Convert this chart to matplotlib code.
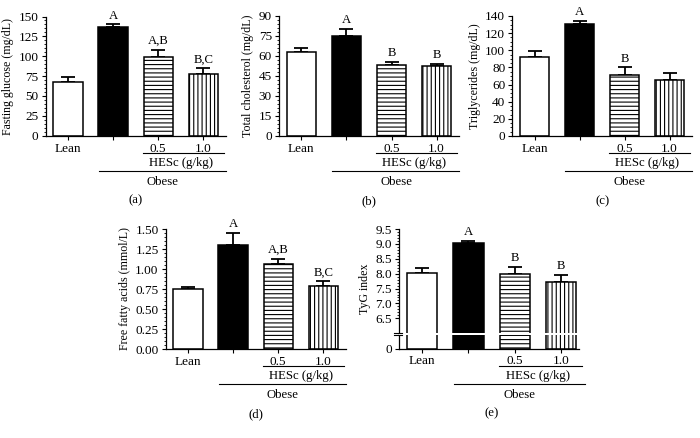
import numpy as np
import matplotlib
matplotlib.use("Agg")
import matplotlib.pyplot as plt
from matplotlib.ticker import MultipleLocator, FixedLocator, FormatStrFormatter
from matplotlib.transforms import offset_copy

plt.rcParams['font.family'] = ['Liberation Serif', 'DejaVu Serif']
plt.rcParams['font.size'] = 9.2
plt.rcParams['hatch.linewidth'] = 0.8

groups = ["Lean", "", "0.5", "1.0"]

glucose = [68, 137, 99.6, 77.3]
glucose_err = [5.5, 3, 8.8, 7.7]
glucose_sig = ["", "A", "A,B", "B,C"]

chol = [62.8, 75, 53.3, 52.8]
chol_err = [3, 5.5, 2, 1.5]
chol_sig = ["", "A", "B", "B"]

tg = [92.2, 131, 70.8, 65.7]
tg_err = [6.6, 3.5, 9.3, 8.2]
tg_sig = ["", "A", "B", ""]

ffa = [0.75, 1.30, 1.067, 0.79]
ffa_err = [0.03, 0.155, 0.058, 0.056]
ffa_sig = ["", "A", "A,B", "B,C"]

tyg = [8.03, 9.03, 8.0, 7.73]
tyg_err = [0.15, 0.08, 0.22, 0.22]
tyg_sig = ["", "A", "B", "B"]

W, H = 700, 438
fig = plt.figure(figsize=(W / 100, H / 100), dpi=100)


def box(left, right, top, bottom):
    return [left / W, 1 - bottom / H, (right - left) / W, (bottom - top) / H]


def panel(rect, vals, errs, sig, ylabel, ymax, major, minor, fmt, tag, xr=3.5,
          scale=None, ticks=None):
    ax = fig.add_axes(box(*rect))
    x = np.arange(len(vals))
    if scale is not None:
        ax.set_yscale('function', functions=scale)
    faces = ["white", "black", "white", "white"]
    hatches = ["", "", "----", "||||"]
    ax.errorbar(x, vals, yerr=[np.zeros(4), errs], fmt='none', ecolor='black',
                elinewidth=1.3, capsize=5.2, capthick=1.3, zorder=1)
    for xi, v, f, h in zip(x, vals, faces, hatches):
        ax.bar(xi, v, width=0.65, color=f, edgecolor='black', hatch=h,
               linewidth=1.1, zorder=2)
    for xi, v, e, s in zip(x, vals, errs, sig):
        if s:
            ax.annotate(s, (xi, v + e), xytext=(0, 2), textcoords='offset points',
                        ha='center', va='bottom')
    ax.set_xlim(-0.5, xr)
    ax.set_ylim(0, ymax)
    if ticks is not None:
        ax.yaxis.set_major_locator(FixedLocator(ticks))
        ax.yaxis.set_minor_locator(FixedLocator(np.arange(6.5, 9.51, 0.1)))
    else:
        ax.yaxis.set_major_locator(MultipleLocator(major))
        ax.yaxis.set_minor_locator(MultipleLocator(minor))
    ax.yaxis.set_major_formatter(FormatStrFormatter(fmt))
    ax.set_xticks(x)
    ax.set_xticklabels(groups)
    ax.tick_params(axis='both', length=3, width=0.8, pad=2, labelsize=9.5)
    ax.tick_params(axis='y', which='minor', length=1.5, width=0.6)
    for s in ['top', 'right']:
        ax.spines[s].set_visible(False)
    for s in ['left', 'bottom']:
        ax.spines[s].set_linewidth(0.9)
    ax.set_ylabel(ylabel, labelpad=3, fontsize=8.6)

    def below(px):
        return offset_copy(ax.get_xaxis_transform(), fig, x=0, y=-px, units='dots')

    ax.plot([1.66, 3.45], [0, 0], color='black', lw=0.8, clip_on=False,
            transform=below(17))
    ax.text(2.5, 0, "HESc (g/kg)", ha='center', va='center', transform=below(27))
    ax.plot([0.68, 3.5], [0, 0], color='black', lw=0.8, clip_on=False,
            transform=below(35))
    ax.text(2.1, 0, "Obese", ha='center', va='center', transform=below(46))
    ax.text(1.5, 0, tag, ha='center', va='center', transform=below(65))
    return ax


panel((45.5, 225.8, 16.5, 135.7), glucose, glucose_err, glucose_sig,
      "Fasting glucose (mg/dL)", 150, 25, 5, '%d', "(a)")
panel((278.8, 459.2, 16, 136), chol, chol_err, chol_sig,
      "Total cholesterol (mg/dL)", 90, 15, 3, '%d', "(b)")
panel((512.2, 692, 16, 136), tg, tg_err, tg_sig,
      "Triglycerides (mg/dL)", 140, 20, 5, '%d', "(c)")
panel((165.5, 345.8, 229, 349), ffa, ffa_err, ffa_sig,
      "Free fatty acids (mmol/L)", 1.5, 0.25, 0.05, '%.2f', "(d)")


def fwd(v):
    v = np.asarray(v, dtype=float)
    return np.where(v < 6, v * 0.0855, v - 5.487)


def inv(d):
    d = np.asarray(d, dtype=float)
    return np.where(d < 0.513, d / 0.0855, d + 5.487)


ax_e = panel((398.8, 579, 229, 348.5), tyg, tyg_err, tyg_sig, "TyG index", 9.5,
             0.5, 0.1, '%g', "(e)", xr=3.38, scale=(fwd, inv),
             ticks=[0, 6.5, 7.0, 7.5, 8.0, 8.5, 9.0, 9.5])
ax_e.set_yticklabels(["0", "6.5", "7.0", "7.5", "8.0", "8.5", "9.0", "9.5"])
ax_e.axhspan(5.4, 5.92, color='white', zorder=5, lw=0)
for yb in [5.4, 5.92]:
    ax_e.plot([-0.025, 0.02], [yb, yb], color='black', lw=0.8, clip_on=False,
              transform=ax_e.get_yaxis_transform(), zorder=6)

fig.savefig("out.png", dpi=100)
